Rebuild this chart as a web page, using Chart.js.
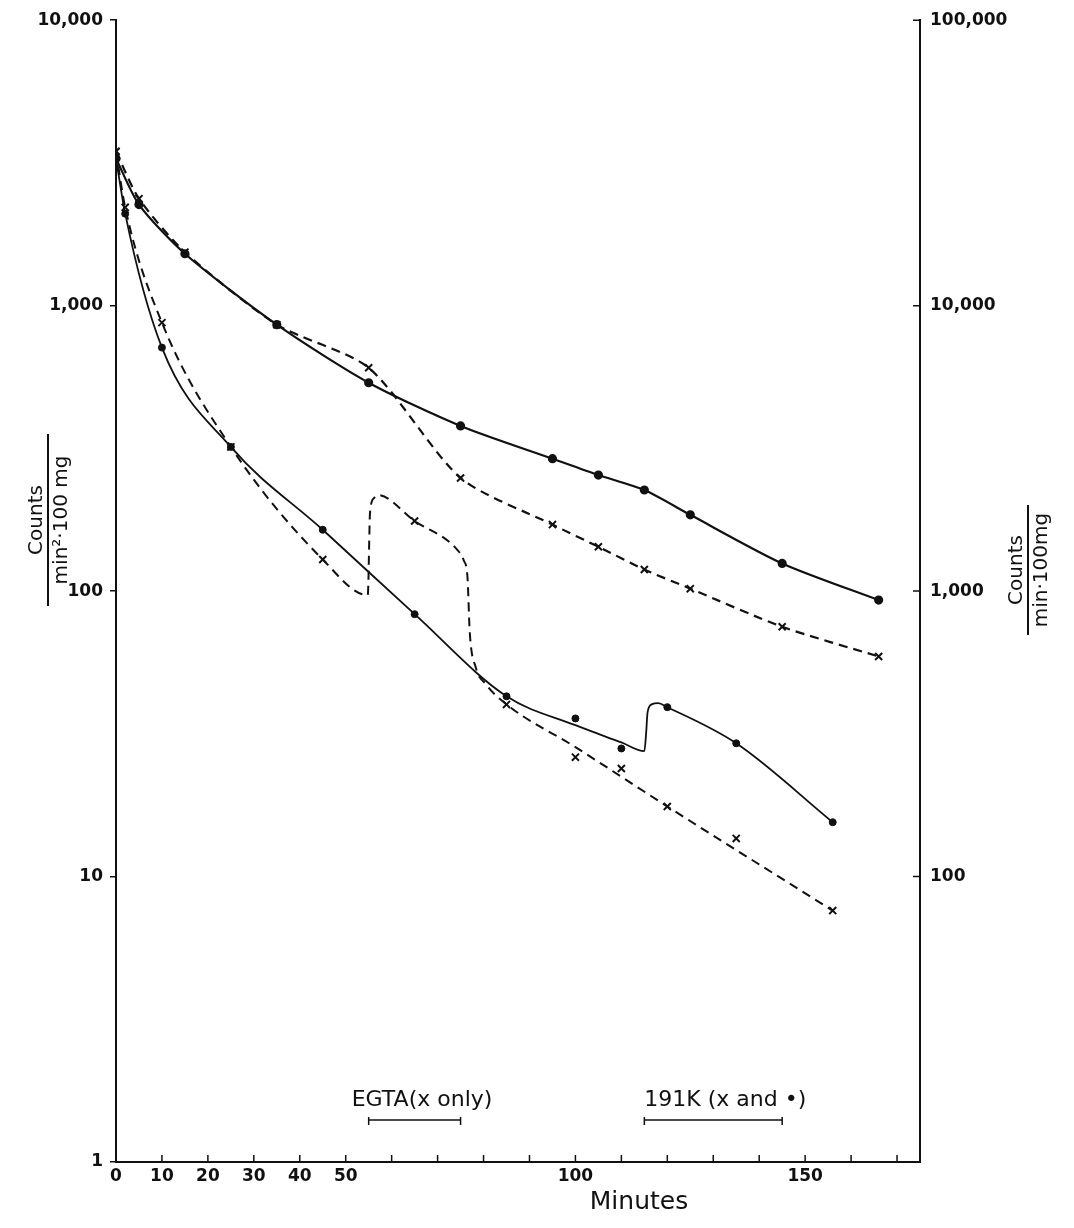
<!DOCTYPE html>
<html>
<head>
<meta charset="utf-8">
<script src="https://cdn.jsdelivr.net/npm/chart.js@4.4.1/dist/chart.umd.min.js"></script>
<style>
  html, body { margin: 0; padding: 0; background: #fff; }
  #wrap { width: 1074px; height: 1228px; }
</style>
</head>
<body>
<div id="wrap"><canvas id="chartEfflux" width="1074" height="1228"></canvas></div>
<script>
// upper pair: counts / min . 100 mg (right axis)
const upperTimes = [0, 5, 15, 35, 55, 75, 95, 105, 115, 125, 145, 166];
const upperDotCounts = [32800, 22600, 15200, 8580, 5370, 3790, 2910, 2550, 2260, 1850, 1250, 930];
const upperCrossCounts = [34700, 23700, 15400, 8580, 6060, 2490, 1710, 1430, 1190, 1020, 750, 590];

// lower pair: counts / min2 . 100 mg (left axis)
const lowerTimes = [0, 2, 10, 25, 45, 65, 85, 100, 110, 120, 135, 156];
const lowerDotRates = [3280, 2100, 713, 320, 164, 83, 42.8, 35.8, 28.1, 39.2, 29.3, 15.5];
const lowerCrossRates = [3470, 2210, 872, 320, 129, 176, 40.1, 26.2, 23.9, 17.6, 13.6, 7.6];

// hand drawn lines of the lower pair, with the jumps after EGTA and 191K
const lowerDotLineTimes = [0, 2, 10, 25, 45, 65, 85, 100, 110, 115, 115.4, 115.7, 116.6, 118, 120, 135, 156];
const lowerDotLineRates = [3280, 2100, 713, 320, 164, 83, 42.8, 33.9, 29.5, 27.5, 32.0, 37.6, 40.1, 40.5, 39.2, 29.3, 15.5];
const lowerCrossLineTimes = [0, 2, 10, 25, 45, 54.8, 55.3, 56.2, 57, 65, 74.2, 75.7, 76.5, 77, 78.3, 80.5, 85, 100, 120, 156];
const lowerCrossLineRates = [3470, 2210, 872, 320, 129, 96.8, 189, 212, 217, 176, 140, 128, 112, 71.8, 54.1, 47.2, 40.1, 28.4, 17.6, 7.6];

// axes
const minuteTicks = [0, 10, 20, 30, 40, 50, 60, 70, 80, 90, 100, 110, 120, 130, 140, 150, 160, 170];
const minuteLabels = [0, 10, 20, 30, 40, 50, 100, 150];
const leftTicks = [1, 10, 100, 1000, 10000];
const rightTicks = [100, 1000, 10000, 100000];

// treatments
const treatmentNames = ['EGTA(x only)', '191K (x and \u2022)'];
const treatmentStart = [55, 115];
const treatmentEnd = [75, 145];

const INK = '#111';
const FAMILY = "'DejaVu Sans', sans-serif";
const TICK_FONT = { family: FAMILY, size: 17, weight: 'bold' };

const toXY = (xs, ys) => xs.map((x, i) => ({ x: x, y: ys[i] }));

const extrasPlugin = {
   id: 'extras',
   afterDraw: function (chart) {
      const ctx = chart.ctx;
      const area = chart.chartArea;
      const x = chart.scales.x;
      const y2 = chart.scales.y2;
      ctx.save();
      ctx.strokeStyle = INK;
      ctx.fillStyle = INK;
      ctx.lineWidth = 1.5;

      // inner tick marks on the time axis and on the right axis
      ctx.beginPath();
      minuteTicks.forEach(v => {
         const px = x.getPixelForValue(v);
         ctx.moveTo(px, area.bottom);
         ctx.lineTo(px, area.bottom - 7);
      });
      rightTicks.forEach(v => {
         const py = y2.getPixelForValue(v);
         ctx.moveTo(area.right, py);
         ctx.lineTo(area.right - 7, py);
      });
      ctx.stroke();

      // treatment brackets
      ctx.font = '22px ' + FAMILY;
      ctx.textBaseline = 'alphabetic';
      ctx.textAlign = 'left';
      const textShift = [-17, 0];
      treatmentNames.forEach((name, i) => {
         const x1 = x.getPixelForValue(treatmentStart[i]);
         const x2 = x.getPixelForValue(treatmentEnd[i]);
         const yb = area.bottom - 42;
         ctx.beginPath();
         ctx.moveTo(x1, yb); ctx.lineTo(x2, yb);
         ctx.moveTo(x1, yb - 3); ctx.lineTo(x1, yb + 5);
         ctx.moveTo(x2, yb - 3); ctx.lineTo(x2, yb + 5);
         ctx.stroke();
         ctx.fillText(name, x1 + textShift[i], yb - 14);
      });

      // axis titles
      ctx.textAlign = 'center';
      ctx.font = '25px ' + FAMILY;
      ctx.fillText('Minutes', area.left + 523, chart.height - 19);

      const fraction = (cx, cy, top, bottom, barLen) => {
         ctx.save();
         ctx.translate(cx, cy);
         ctx.rotate(-Math.PI / 2);
         ctx.font = '20px ' + FAMILY;
         ctx.fillText(top, 0, -6);
         ctx.fillRect(-barLen / 2, -1, barLen, 2);
         ctx.fillText(bottom, 0, 19);
         ctx.restore();
      };
      fraction(48, 520, 'Counts', 'min\u00B2\u00B7100 mg', 172);
      fraction(1028, 570, 'Counts', 'min\u00B7100mg', 130);
      ctx.restore();
   }
};

const ctx = document.getElementById('chartEfflux').getContext('2d');
const chartEfflux = new Chart(ctx, {
   type: 'line',
   data: {
      datasets: [{
         label: 'upper dots',
         data: toXY(upperTimes, upperDotCounts),
         yAxisID: 'y2',
         borderColor: INK,
         backgroundColor: INK,
         borderWidth: 2.2,
         pointStyle: 'circle',
         pointRadius: 3.5,
         tension: 0.25,
      }, {
         label: 'upper crosses',
         data: toXY(upperTimes, upperCrossCounts),
         yAxisID: 'y2',
         borderColor: INK,
         backgroundColor: INK,
         borderWidth: 2.2,
         borderDash: [9, 6],
         pointStyle: 'crossRot',
         pointRadius: 5,
         pointBorderWidth: 2,
         tension: 0.25,
      }, {
         label: 'lower dots line',
         data: toXY(lowerDotLineTimes, lowerDotLineRates),
         yAxisID: 'y',
         borderColor: INK,
         borderWidth: 1.8,
         pointRadius: 0,
         cubicInterpolationMode: 'monotone',
      }, {
         label: 'lower crosses line',
         data: toXY(lowerCrossLineTimes, lowerCrossLineRates),
         yAxisID: 'y',
         borderColor: INK,
         borderWidth: 2,
         borderDash: [9, 6],
         pointRadius: 0,
         cubicInterpolationMode: 'monotone',
      }, {
         label: 'lower dots',
         data: toXY(lowerTimes, lowerDotRates),
         yAxisID: 'y',
         showLine: false,
         borderColor: INK,
         backgroundColor: INK,
         pointStyle: 'circle',
         pointRadius: 3.5,
      }, {
         label: 'lower crosses',
         data: toXY(lowerTimes, lowerCrossRates),
         yAxisID: 'y',
         showLine: false,
         borderColor: INK,
         backgroundColor: INK,
         pointStyle: 'crossRot',
         pointRadius: 5,
         pointBorderWidth: 2,
      }]
   },
   options: {
      responsive: false,
      animation: false,
      layout: { padding: { top: 19, left: 0, right: 0, bottom: 0 } },
      scales: {
         x: {
            type: 'linear',
            min: 0,
            max: 175,
            afterBuildTicks: s => { s.ticks = minuteTicks.map(v => ({ value: v })); },
            afterFit: s => { s.height = 66; },
            grid: { display: false, drawTicks: false },
            border: { display: true, color: INK, width: 2 },
            ticks: {
               autoSkip: false,
               maxRotation: 0,
               padding: 4,
               color: INK,
               font: TICK_FONT,
               callback: v => minuteLabels.includes(v) ? String(v) : '',
            },
         },
         y: {
            type: 'logarithmic',
            position: 'left',
            min: 1,
            max: 10000,
            afterBuildTicks: s => { s.ticks = leftTicks.map(v => ({ value: v })); },
            afterFit: s => { s.width = 116; },
            grid: { drawOnChartArea: false, drawTicks: true, tickLength: 6, color: INK, lineWidth: 1.5 },
            border: { display: true, color: INK, width: 2 },
            ticks: {
               padding: 7,
               color: INK,
               font: TICK_FONT,
               callback: v => v.toLocaleString('en-US'),
            },
         },
         y2: {
            type: 'logarithmic',
            position: 'right',
            min: 10,
            max: 100000,
            afterBuildTicks: s => { s.ticks = rightTicks.map(v => ({ value: v })); },
            afterFit: s => { s.width = 154; },
            grid: { display: false, drawTicks: false },
            border: { display: true, color: INK, width: 2 },
            ticks: {
               padding: 10,
               color: INK,
               font: TICK_FONT,
               callback: v => v.toLocaleString('en-US'),
            },
         },
      },
      plugins: {
         legend: { display: false },
         tooltip: { enabled: false },
      },
   },
   plugins: [extrasPlugin]
});
</script>
</body>
</html>
